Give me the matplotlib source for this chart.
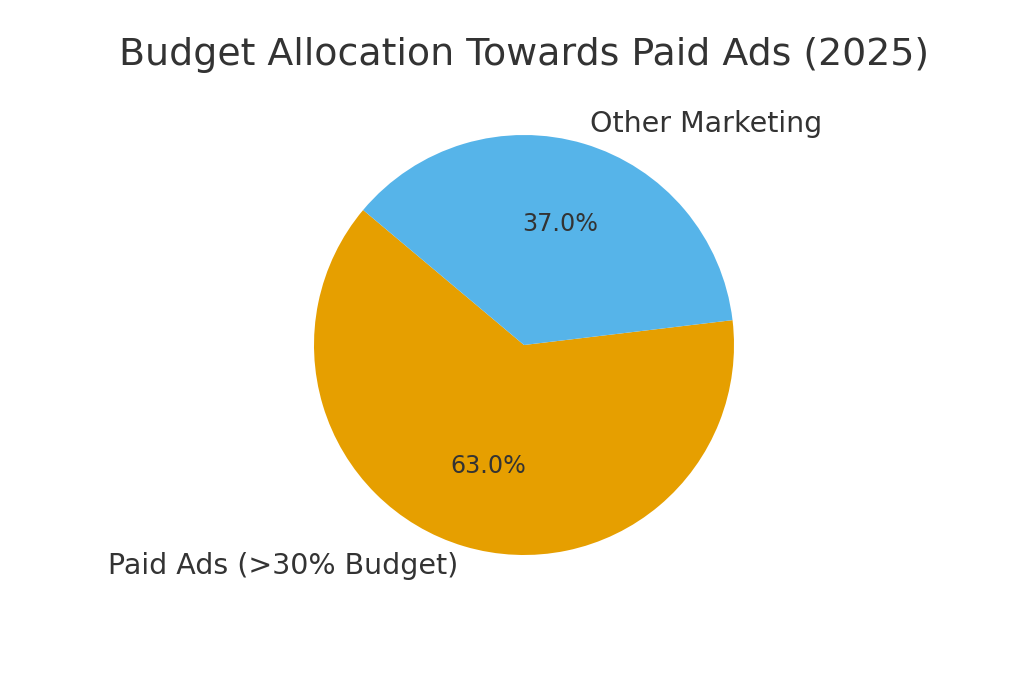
import matplotlib.pyplot as plt

# data
labels = ["Paid Ads (>30% Budget)", "Other Marketing"]
shares = [63.0, 37.0]
colors = ["#E69F00", "#56B4E9"]

text_color = "#333333"

fig = plt.figure(figsize=(10.24, 6.83), dpi=100)
ax = fig.add_axes([0.0, 0.0, 1.0, 1.0])

wedges, texts, autotexts = ax.pie(
    shares, labels=labels, colors=colors, autopct="%1.1f%%",
    startangle=140, radius=1.0, center=(0, 0),
    textprops={"color": text_color, "fontsize": 20.5},
)
for t in autotexts:
    t.set_fontsize(17.2)

ax.set_aspect("equal")
# pie center at ~(524, 345) px, radius ~210 px
r_px = 210.0
cx, cy = 524.0, 683 - 345.0
ax.set_xlim(-cx / r_px, (1024 - cx) / r_px)
ax.set_ylim(-cy / r_px, (683 - cy) / r_px)
ax.axis("off")

fig.text(524 / 1024, 1 - 55 / 683, "Budget Allocation Towards Paid Ads (2025)",
         ha="center", va="center", fontsize=27.3, color=text_color)

fig.savefig("out.png", dpi=100)
